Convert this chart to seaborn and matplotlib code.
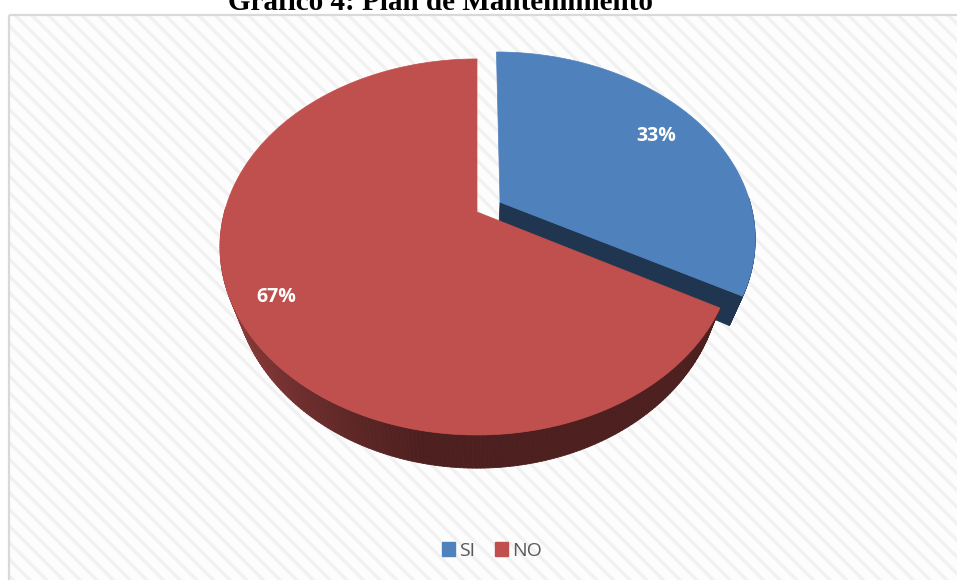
import numpy as np
import matplotlib
matplotlib.use("Agg")
import matplotlib.pyplot as plt
from matplotlib.patches import Polygon, Rectangle, Patch
from matplotlib.collections import PolyCollection
from matplotlib.colors import to_rgb
import seaborn as sns

# ---- data ----
categories = ["SI", "NO"]
shares = [33, 67]
explode = [0.107, 0.0]
top_colors = ["#4F81BD", "#C0504D"]
title = "Gráfico 4: Plan de Mantenimiento"

sns.set_theme(style="white")
plt.rcParams["font.family"] = ["Open Sans", "DejaVu Sans"]
plt.rcParams["hatch.linewidth"] = 2.4

W, H = 957, 580
fig = plt.figure(figsize=(W / 100, H / 100), dpi=100)
ax = fig.add_axes([0, 0, 1, 1])
ax.set_xlim(0, W)
ax.set_ylim(H, 0)
ax.axis("off")

# chart area: striped background and thin frame
ax.add_patch(Rectangle((8.5, 14.5), W, H, facecolor="#FDFDFD", edgecolor="#F1F1F1",
                       lw=0, hatch="\\\\", zorder=0))
ax.add_patch(Rectangle((8.5, 14.5), W, H, fill=False, edgecolor="#D9D9D9", lw=1.6, zorder=1))

fig.text(441 / W, 1 - 9.5 / H, title, ha="center", va="baseline",
         fontsize=21, fontweight="bold", family=["Liberation Serif"], color="black")

# ---- perspective projection of the pie disk ----
cx, cy = 477.0, 212.0
sx, sy, persp = 252.5, 181.5, 0.186
depth = 27.0
converge = 0.05  # vertical edges lean inward towards the bottom


def project(X, Y, z=0.0):
    d = 1.0 + persp * Y
    shrink = 1.0 - converge * z / depth
    return cx + sx * X / d * shrink, cy - sy * Y / d + z / d


def mix(c1, c2, w):
    a, b = np.array(to_rgb(c1)), np.array(to_rgb(c2))
    return tuple(a + (b - a) * w)


side_light = {0: "#2A4A70", 1: "#A84846"}
side_dark = {0: "#1F3550", 1: "#4D1F1F"}


def side_color(i, t_deg):
    t = t_deg % 360
    if i == 1:
        w = np.clip((t - 185) / 75, 0, 1) if t >= 90 else 1.0
        return mix(side_light[1], side_dark[1], w)
    return to_rgb(side_dark[0])


label_radius = [0.79, 0.85]

fracs = np.array(shares, dtype=float) / sum(shares)
start = 90.0
zo = 2
for i, (cat, f) in enumerate(zip(categories, fracs)):
    t_a = start
    t_b = start - f * 360.0
    mid = np.radians((t_a + t_b) / 2)
    ox, oy = explode[i] * np.cos(mid), explode[i] * np.sin(mid)
    ts = np.radians(np.linspace(t_a, t_b, 300))
    Xs, Ys = ox + np.cos(ts), oy + np.sin(ts)

    # outer curved wall (only the part turned towards the viewer)
    quads, cols = [], []
    for k in range(len(ts) - 1):
        if np.sin(ts[k]) > 0.02 and np.sin(ts[k + 1]) > 0.02:
            continue
        p0 = project(Xs[k], Ys[k]); p1 = project(Xs[k + 1], Ys[k + 1])
        b1 = project(Xs[k + 1], Ys[k + 1], depth); b0 = project(Xs[k], Ys[k], depth)
        quads.append([p0, p1, b1, b0])
        cols.append(side_color(i, np.degrees(ts[k])))
    ax.add_collection(PolyCollection(quads, facecolors=cols, edgecolors=cols,
                                     linewidths=0.6, zorder=zo))

    # cut face at the end of the slice (faces the viewer for the first slice)
    if i == 0:
        o_t, o_b = project(ox, oy), project(ox, oy, depth)
        a_t, a_b = project(Xs[-1], Ys[-1]), project(Xs[-1], Ys[-1], depth)
        ax.add_patch(Polygon([o_t, a_t, a_b, o_b], closed=True,
                             facecolor=side_dark[0], edgecolor=side_dark[0],
                             lw=0.6, zorder=zo + 1))

    # top face
    top = [project(ox, oy)] + [project(x, y) for x, y in zip(Xs, Ys)]
    ax.add_patch(Polygon(top, closed=True, facecolor=top_colors[i],
                         edgecolor=top_colors[i], lw=0.5, zorder=zo + 2))

    # percentage label
    r_lab = label_radius[i]
    lx, ly = project(ox + r_lab * np.cos(mid), oy + r_lab * np.sin(mid))
    ax.text(lx, ly, f"{shares[i]}%", ha="center", va="center", color="white",
            fontsize=14, fontweight="bold", zorder=20)

    start = t_b
    zo += 5

handles = [Patch(facecolor=c, edgecolor=c) for c in top_colors]
ax.legend(handles, categories, loc="center", bbox_to_anchor=(492 / W, 1 - 551 / H),
          ncol=2, frameon=False, fontsize=14, handlelength=0.7, handleheight=0.7,
          handletextpad=0.2, columnspacing=1.0, labelcolor="#595959")

fig.savefig("out.png", dpi=100)
